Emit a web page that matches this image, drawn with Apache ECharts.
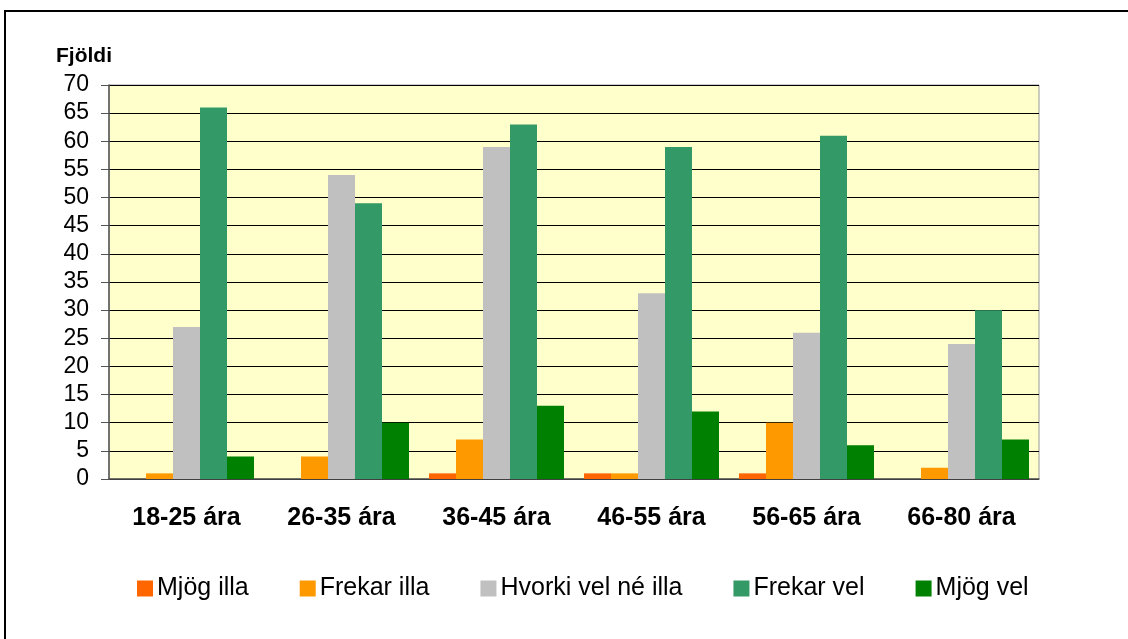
<!DOCTYPE html>
<html>
<head>
<meta charset="utf-8">
<script src="https://cdn.jsdelivr.net/npm/echarts@6/dist/echarts.min.js"></script>
<style>
  html, body { margin: 0; padding: 0; background: #fff; }
  #chart-dom { width: 1128px; height: 639px; }
</style>
</head>
<body>
<div id="chart-dom"></div>
<script>
const categories = ['18-25 ára', '26-35 ára', '36-45 ára', '46-55 ára', '56-65 ára', '66-80 ára'];
const seriesNames = ['Mjög illa', 'Frekar illa', 'Hvorki vel né illa', 'Frekar vel', 'Mjög vel'];
const mjogIlla = [0, 0, 1, 1, 1, 0];
const frekarIlla = [1, 4, 7, 1, 10, 2];
const hvorki = [27, 54, 59, 33, 26, 24];
const frekarVel = [66, 49, 63, 59, 61, 30];
const mjogVel = [4, 10, 13, 12, 6, 7];
const yTicks = [0, 70, 5];
const colors = ['#FF6600', '#FF9900', '#C0C0C0', '#339966', '#008000'];

const myChart = echarts.init(document.getElementById('chart-dom'));
const allData = [mjogIlla, frekarIlla, hvorki, frekarVel, mjogVel];

const option = {
  animation: false,
  textStyle: { fontFamily: 'Liberation Sans, Arial, sans-serif' },
  title: {
    text: 'Fjöldi',
    left: 51,
    top: 41,
    textStyle: { fontSize: 21, fontWeight: 'bold', color: '#000' }
  },
  graphic: [
    {
      type: 'rect',
      shape: { x: 5, y: 11, width: 1200, height: 700 },
      style: { fill: null, stroke: '#000', lineWidth: 2 },
      silent: true
    }
  ],
  legend: {
    data: seriesNames,
    left: 132,
    top: 571,
    itemWidth: 16,
    itemHeight: 16,
    itemGap: 51,
    icon: 'rect',
    textStyle: { fontSize: 25, color: '#000', padding: [0, 0, 0, -1] }
  },
  grid: {
    left: 109,
    right: 89,
    top: 85,
    bottom: 160,
    show: true,
    backgroundColor: '#FFFFCC',
    borderColor: '#999',
    borderWidth: 1
  },
  xAxis: {
    type: 'category',
    data: categories,
    axisLine: { lineStyle: { color: '#555', width: 1.5 } },
    axisTick: { length: 8, lineStyle: { color: '#555', width: 1.5 } },
    axisLabel: { fontSize: 25, fontWeight: 'bold', color: '#000', margin: 27 }
  },
  yAxis: {
    type: 'value',
    min: yTicks[0],
    max: yTicks[1],
    interval: yTicks[2],
    axisLine: { show: true, lineStyle: { color: '#555', width: 1.5 } },
    axisTick: { show: true, length: 8, lineStyle: { color: '#555' } },
    axisLabel: { fontSize: 23, color: '#000', margin: 20 },
    splitLine: { lineStyle: { color: '#000', width: 1 } }
  },
  series: seriesNames.map((name, i) => ({
    name: name,
    type: 'bar',
    data: allData[i],
    barWidth: 27,
    barGap: '0%',
    itemStyle: { color: colors[i] }
  }))
};
myChart.setOption(option, true);
</script>
</body>
</html>
